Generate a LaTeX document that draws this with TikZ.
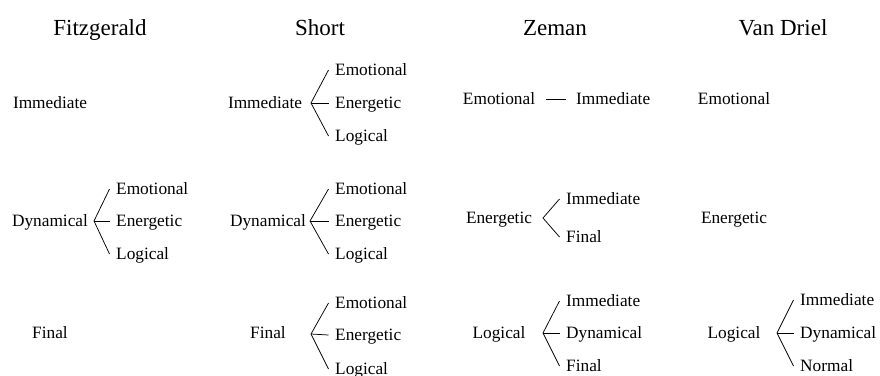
\documentclass[tikz,border=0pt]{standalone}
\usepackage{fontspec}
\setmainfont{Liberation Serif}
\newfontfamily\tms{Liberation Serif}
\begin{document}
\begin{tikzpicture}[x=1pt,y=-1pt,
  ttl/.style={font=\tms\fontsize{23}{26}\selectfont, anchor=center, inner sep=0pt, text height=15.2pt, text depth=0pt},
  par/.style={font=\tms\fontsize{17.3}{20}\selectfont, anchor=center, inner sep=0pt, text height=11.5pt, text depth=0pt},
  kid/.style={font=\tms\fontsize{17.3}{20}\selectfont, anchor=west, inner sep=0pt, text height=11.5pt, text depth=0pt},
  br/.style={draw=black, line width=0.75pt}]
\useasboundingbox (0,0) rectangle (880,375);
% titles
\node[ttl] (tF) at (100,28) {Fitzgerald};
\node[ttl] (tS) at (320,28) {Short};
\node[ttl] (tZ) at (555,28) {Zeman};
\node[ttl] (tV) at (783,28) {Van Driel};
% Fitzgerald
\node[par] (f1) at (50,103) {Immediate};
\node[par] (f2) at (50,221) {Dynamical};
\node[par] (f3) at (50,333) {Final};
\coordinate (fa2) at (94,221);
\node[kid] (f2a) at (116,189) {Emotional};
\node[kid] (f2b) at (116,221) {Energetic};
\node[kid] (f2c) at (116,254) {Logical};
\draw[br] ([xshift=-6.5pt]f2a.west) -- (fa2) -- ([xshift=-6.5pt]f2c.west);
\draw[br] (fa2) -- ([xshift=-6.5pt]f2b.west);
% Short
\node[par] (s1) at (265,103) {Immediate};
\coordinate (sa1) at (311,103);
\node[kid] (s1a) at (335,70) {Emotional};
\node[kid] (s1b) at (335,103) {Energetic};
\node[kid] (s1c) at (335,136) {Logical};
\draw[br] ([xshift=-6.5pt]s1a.west) -- (sa1) -- ([xshift=-6.5pt]s1c.west);
\draw[br] (sa1) -- ([xshift=-6.5pt]s1b.west);
\node[par] (s2) at (268,221) {Dynamical};
\coordinate (sa2) at (310,221);
\node[kid] (s2a) at (335,189) {Emotional};
\node[kid] (s2b) at (335,221) {Energetic};
\node[kid] (s2c) at (335,254) {Logical};
\draw[br] ([xshift=-6.5pt]s2a.west) -- (sa2) -- ([xshift=-6.5pt]s2c.west);
\draw[br] (sa2) -- ([xshift=-6.5pt]s2b.west);
\node[par] (s3) at (268,333) {Final};
\coordinate (sa3) at (311,334);
\node[kid] (s3a) at (335,303) {Emotional};
\node[kid] (s3b) at (335,335) {Energetic};
\node[kid] (s3c) at (335,369) {Logical};
\draw[br] ([xshift=-6.5pt]s3a.west) -- (sa3) -- ([xshift=-6.5pt]s3c.west);
\draw[br] (sa3) -- ([xshift=-6.5pt]s3b.west);
% Zeman
\node[par] (z1) at (499,99) {Emotional};
\node[kid] (z1b) at (576,99) {Immediate};
\draw[br, shorten <=11pt, shorten >=10pt] (z1.east) -- (z1b.west);
\node[par] (z2) at (499,218) {Energetic};
\coordinate (za2) at (543,218);
\node[kid] (z2a) at (566,199) {Immediate};
\node[kid] (z2b) at (566,237) {Final};
\draw[br] ([xshift=-6.5pt]z2a.west) -- (za2) -- ([xshift=-6.5pt]z2b.west);
\node[par] (z3) at (499,333) {Logical};
\coordinate (za3) at (543,333);
\node[kid] (z3a) at (566,301) {Immediate};
\node[kid] (z3b) at (566,333) {Dynamical};
\node[kid] (z3c) at (566,366) {Final};
\draw[br] ([xshift=-6.5pt]z3a.west) -- (za3) -- ([xshift=-6.5pt]z3c.west);
\draw[br] (za3) -- ([xshift=-6.5pt]z3b.west);
% Van Driel
\node[par] (v1) at (734,99) {Emotional};
\node[par] (v2) at (734,218) {Energetic};
\node[par] (v3) at (734,333) {Logical};
\coordinate (va3) at (777,333);
\node[kid] (v3a) at (800,300) {Immediate};
\node[kid] (v3b) at (800,333) {Dynamical};
\node[kid] (v3c) at (800,366) {Normal};
\draw[br] ([xshift=-6.5pt]v3a.west) -- (va3) -- ([xshift=-6.5pt]v3c.west);
\draw[br] (va3) -- ([xshift=-6.5pt]v3b.west);
\end{tikzpicture}
\end{document}
